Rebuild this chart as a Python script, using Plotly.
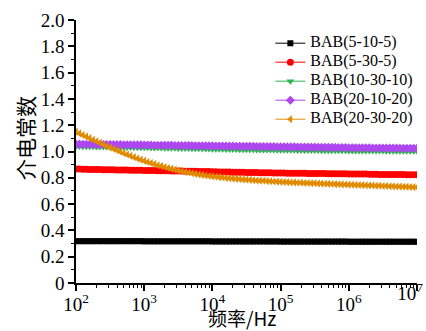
import numpy as np
import plotly.graph_objects as go

# measurement frequencies (Hz), 101 log-spaced points from 1e2 to 1e7
freq = np.logspace(2, 7, 101)

names = ["BAB(5-10-5)", "BAB(5-30-5)", "BAB(10-30-10)", "BAB(20-10-20)", "BAB(20-30-20)"]

bab_5_10_5 = [0.318] * 20 + [0.317] * 20 + [0.316] * 20 + [0.315] * 20 + [0.314] * 20 + [0.313]

bab_5_30_5 = [
    0.866, 0.866, 0.865, 0.865, 0.864, 0.864, 0.863, 0.863, 0.862, 0.862,
    0.861, 0.861, 0.860, 0.860, 0.859, 0.859, 0.858, 0.858, 0.857, 0.857,
    0.856, 0.856, 0.855, 0.855, 0.854, 0.854, 0.853, 0.853, 0.852, 0.852,
    0.851, 0.851, 0.850, 0.850, 0.849, 0.849, 0.848, 0.848, 0.847, 0.847,
    0.846, 0.846, 0.845, 0.845, 0.844, 0.844, 0.843, 0.843, 0.842, 0.842,
    0.841, 0.841, 0.840, 0.840, 0.839, 0.839, 0.838, 0.838, 0.837, 0.837,
    0.836, 0.836, 0.835, 0.835, 0.835, 0.834, 0.834, 0.834, 0.833, 0.833,
    0.833, 0.832, 0.832, 0.832, 0.831, 0.831, 0.831, 0.830, 0.830, 0.830,
    0.829, 0.829, 0.829, 0.828, 0.828, 0.828, 0.827, 0.827, 0.827, 0.826,
    0.826, 0.826, 0.826, 0.825, 0.825, 0.825, 0.825, 0.824, 0.824, 0.824,
    0.824,
]

bab_10_30_10 = [
    1.038, 1.038, 1.037, 1.037, 1.036, 1.036, 1.035, 1.035, 1.034, 1.034,
    1.033, 1.033, 1.032, 1.032, 1.031, 1.031, 1.030, 1.030, 1.029, 1.029,
    1.028, 1.028, 1.027, 1.027, 1.026, 1.026, 1.025, 1.025, 1.024, 1.024,
    1.023, 1.023, 1.022, 1.022, 1.021, 1.021, 1.020, 1.020, 1.019, 1.019,
    1.018, 1.018, 1.017, 1.017, 1.016, 1.016, 1.015, 1.015, 1.014, 1.014,
    1.013, 1.013, 1.013, 1.012, 1.012, 1.012, 1.011, 1.011, 1.011, 1.010,
    1.010, 1.010, 1.009, 1.009, 1.009, 1.008, 1.008, 1.008, 1.007, 1.007,
    1.007, 1.007, 1.006, 1.006, 1.006, 1.006, 1.005, 1.005, 1.005, 1.005,
    1.004, 1.004, 1.004, 1.004, 1.004, 1.003, 1.003, 1.003, 1.003, 1.003,
    1.003, 1.002, 1.002, 1.002, 1.002, 1.002, 1.002, 1.001, 1.001, 1.001,
    1.001,
]

bab_20_10_20 = [
    1.056, 1.056, 1.055, 1.055, 1.055, 1.054, 1.054, 1.054, 1.053, 1.053,
    1.053, 1.052, 1.052, 1.052, 1.051, 1.051, 1.051, 1.050, 1.050, 1.050,
    1.049, 1.049, 1.049, 1.048, 1.048, 1.048, 1.047, 1.047, 1.047, 1.046,
    1.046, 1.046, 1.045, 1.045, 1.045, 1.044, 1.044, 1.044, 1.043, 1.043,
    1.043, 1.042, 1.042, 1.042, 1.041, 1.041, 1.041, 1.040, 1.040, 1.040,
    1.039, 1.039, 1.039, 1.038, 1.038, 1.038, 1.037, 1.037, 1.037, 1.036,
    1.036, 1.036, 1.035, 1.035, 1.035, 1.034, 1.034, 1.034, 1.033, 1.033,
    1.033, 1.032, 1.032, 1.032, 1.031, 1.031, 1.031, 1.030, 1.030, 1.030,
    1.029, 1.029, 1.029, 1.028, 1.028, 1.028, 1.028, 1.027, 1.027, 1.027,
    1.027, 1.026, 1.026, 1.026, 1.026, 1.025, 1.025, 1.025, 1.025, 1.025,
    1.024,
]

bab_20_30_20 = [
    1.150, 1.138, 1.126, 1.114, 1.102, 1.090, 1.078, 1.066, 1.054, 1.042,
    1.031, 1.020, 1.009, 0.998, 0.987, 0.977, 0.967, 0.957, 0.947, 0.938,
    0.929, 0.920, 0.912, 0.904, 0.896, 0.889, 0.882, 0.875, 0.868, 0.862,
    0.856, 0.850, 0.845, 0.840, 0.835, 0.830, 0.826, 0.822, 0.818, 0.814,
    0.811, 0.808, 0.805, 0.802, 0.799, 0.797, 0.794, 0.792, 0.790, 0.788,
    0.786, 0.784, 0.782, 0.780, 0.778, 0.777, 0.775, 0.774, 0.772, 0.771,
    0.769, 0.768, 0.767, 0.765, 0.764, 0.763, 0.762, 0.761, 0.760, 0.759,
    0.758, 0.757, 0.756, 0.755, 0.754, 0.753, 0.752, 0.751, 0.750, 0.749,
    0.748, 0.747, 0.746, 0.745, 0.744, 0.743, 0.742, 0.741, 0.740, 0.739,
    0.738, 0.737, 0.736, 0.735, 0.734, 0.733, 0.732, 0.731, 0.730, 0.729,
    0.728,
]

x_title = "频率/Hz"
y_title = "介电常数"
x_tickvals = [1e2, 1e3, 1e4, 1e5, 1e6]
x_ticktext = ["10<sup>2</sup>", "10<sup>3</sup>", "10<sup>4</sup>", "10<sup>5</sup>", "10<sup>6</sup>"]
x_last_tickval = [1e7]
x_last_ticktext = ["10<sup>7</sup>"]
y_tickvals = [0, 0.2, 0.4, 0.6, 0.8, 1.0, 1.2, 1.4, 1.6, 1.8, 2.0]
y_ticktext = ["0", "0.2", "0.4", "0.6", "0.8", "1.0", "1.2", "1.4", "1.6", "1.8", "2.0"]

series = [bab_5_10_5, bab_5_30_5, bab_10_30_10, bab_20_10_20, bab_20_30_20]
colors = ["#000000", "#FF0000", "#2DB54F", "#AE47F0", "#E08A00"]
symbols = ["square", "circle", "triangle-down", "diamond", "triangle-left"]
sizes = [6, 7, 7, 7, 7]

fig = go.Figure()
for name, ys, c, s, sz in zip(names, series, colors, symbols, sizes):
    fig.add_trace(go.Scatter(
        x=freq, y=ys, mode="lines+markers",
        name='<span style="font-size:16px">' + name + "</span>",
        line=dict(color=c, width=1),
        marker=dict(symbol=s, size=sz, color=c, line=dict(width=0)),
    ))

SERIF = "Liberation Serif"
CJK = "Noto Sans CJK SC"
axis_common = dict(
    showline=True, linecolor="black", linewidth=1.5, mirror=False,
    ticks="outside", ticklen=6, tickwidth=1.5, tickcolor="black",
    showgrid=False, zeroline=False, automargin=False,
    tickfont=dict(family=SERIF, size=19, color="black"),
)
fig.update_layout(
    width=426, height=331,
    margin=dict(l=76, r=9, t=20, b=48, autoexpand=False),
    paper_bgcolor="white", plot_bgcolor="white",
    font=dict(family=SERIF, size=16, color="black"),
    legend=dict(
        x=0.570, y=0.967, xanchor="left", yanchor="top",
        font=dict(family=SERIF, size=11, color="black"),
        bgcolor="rgba(0,0,0,0)", tracegroupgap=0, itemwidth=30,
    ),
    showlegend=True,
    xaxis=dict(
        type="log", range=[2, 7], tickvals=x_tickvals + x_last_tickval,
        ticktext=x_ticktext + [""], ticklabelstandoff=-3,
        minor=dict(ticks="outside", ticklen=3, tickwidth=1, tickcolor="black", dtick="D1"),
        **axis_common,
    ),
    xaxis2=dict(
        type="log", range=[2, 7], overlaying="x", anchor="y", side="bottom",
        tickvals=x_last_tickval, ticktext=x_last_ticktext, ticklabelshift=-7,
        ticklabelstandoff=-3,
        ticks="", showline=False, showgrid=False, zeroline=False, automargin=False,
        ticklabeloverflow="allow",
        tickfont=dict(family=SERIF, size=19, color="black"),
    ),
    yaxis=dict(
        range=[0, 2.0], tickvals=y_tickvals, ticktext=y_ticktext,
        minor=dict(ticks="outside", ticklen=3, tickwidth=1, tickcolor="black", dtick=0.1),
        **axis_common,
    ),
    annotations=[
        dict(text=x_title, xref="paper", yref="paper", x=0.487, y=-0.131,
             xanchor="center", yanchor="middle", showarrow=False,
             font=dict(family=CJK, size=19, color="black")),
        dict(text=y_title, xref="paper", yref="paper", x=-0.150, y=0.551,
             xanchor="center", yanchor="middle", showarrow=False, textangle=-90,
             font=dict(family=CJK, size=21, color="black")),
    ],
)
# invisible helper trace so the overlaid axis carrying the 10^7 label is drawn
fig.add_trace(go.Scatter(x=[freq[-1]], y=[bab_5_10_5[-1]], xaxis="x2", yaxis="y",
                         mode="markers", marker=dict(opacity=0), showlegend=False,
                         hoverinfo="skip"))
fig.write_html("out.html")
